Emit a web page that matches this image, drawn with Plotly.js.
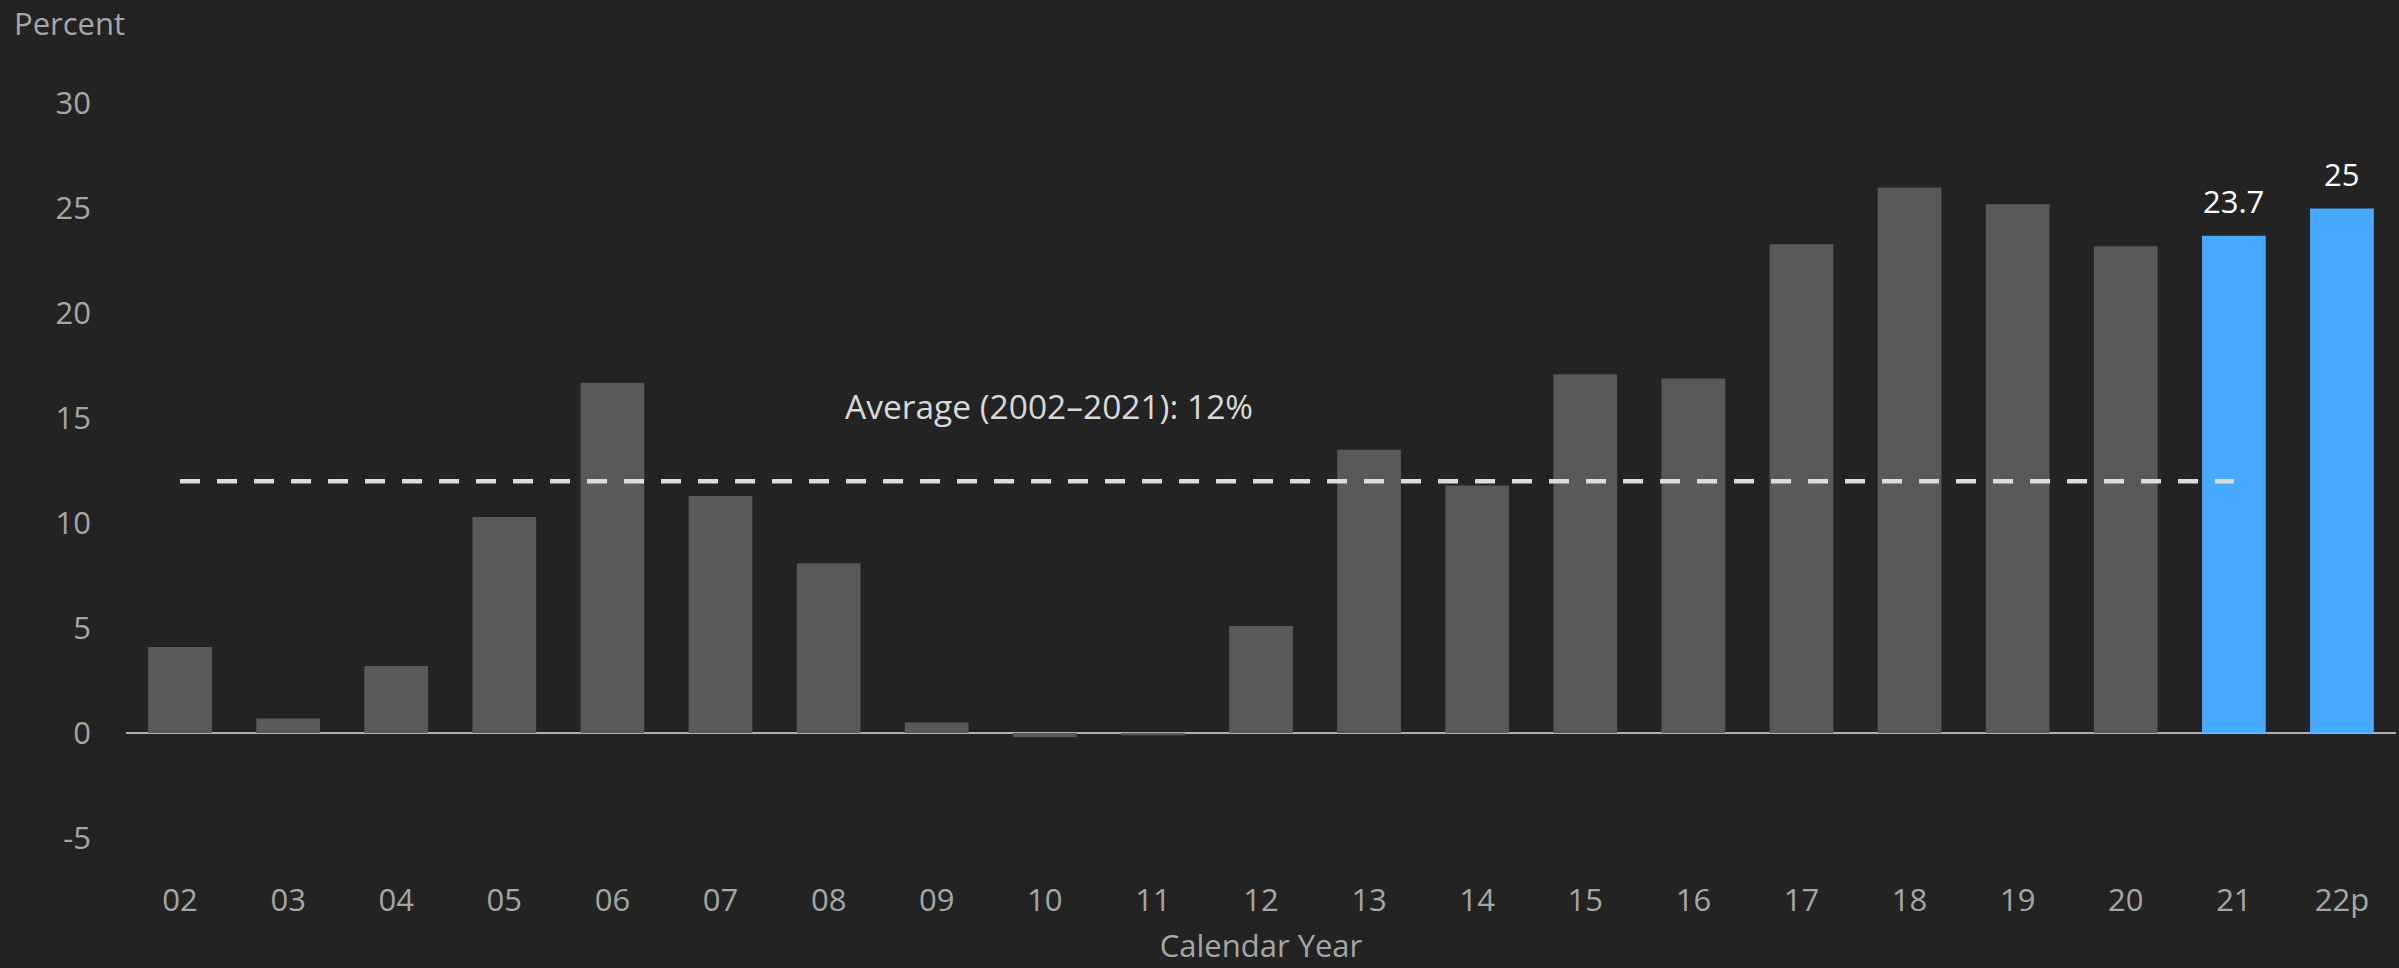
<!DOCTYPE html>
<html>
<head>
<meta charset="utf-8">
<script src="https://cdn.plot.ly/plotly-3.0.1.min.js"></script>
<style>
  html, body { margin: 0; padding: 0; background: #232323; }
  #chart { width: 2399px; height: 968px; }
</style>
</head>
<body>
<div id="chart"></div>
<script>
// Annual percentage by calendar year (22p = projected)
const years = ['02','03','04','05','06','07','08','09','10','11','12','13','14','15','16','17','18','19','20','21','22p'];
const percent = [4.1, 0.7, 3.2, 10.3, 16.7, 11.3, 8.1, 0.5, -0.2, -0.1, 5.1, 13.5, 11.8, 17.1, 16.9, 23.3, 26.0, 25.2, 23.2, 23.7, 25];
const highlightedYears = ['21', '22p'];
const averageValue = 12;
const averageFrom = '02';
const averageTo = '21';
const averageLabel = 'Average (2002\u20132021): 12%';
const yTicks = [-5, 0, 5, 10, 15, 20, 25, 30];

const FONT = 'Open Sans, Noto Sans, sans-serif';
const GREY_BAR = '#595959';
const BLUE_BAR = '#47aaff';
const TICK_COLOR = '#a6a6a6';

const isHighlighted = years.map(y => highlightedYears.includes(y));

const barTrace = {
  type: 'bar',
  x: years,
  y: percent,
  marker: { color: isHighlighted.map(h => h ? BLUE_BAR : GREY_BAR) },
  hoverinfo: 'x+y',
  showlegend: false
};

// value labels above the highlighted bars (positioned by category index,
// so numeric-looking names such as '21' are not read as indexes)
const valueLabels = [];
years.forEach((yr, i) => {
  if (!isHighlighted[i]) return;
  valueLabels.push({
    x: i, y: percent[i], xref: 'x', yref: 'y',
    text: String(percent[i]), showarrow: false,
    yanchor: 'bottom', yshift: 12,
    font: { family: FONT, size: 31, color: '#ffffff' }
  });
});

const layout = {
  width: 2399,
  height: 968,
  paper_bgcolor: '#232323',
  plot_bgcolor: '#232323',
  margin: { l: 126, r: 3, t: 60, b: 100 },
  bargap: 0.41,
  font: { family: FONT, size: 31, color: TICK_COLOR },
  xaxis: {
    type: 'category',
    categoryorder: 'array',
    categoryarray: years,
    range: [-0.5, years.length - 0.5],
    showgrid: false,
    showline: false,
    zeroline: false,
    ticks: '',
    ticklabelstandoff: 11,
    tickfont: { family: FONT, size: 31, color: TICK_COLOR },
    title: { text: 'Calendar Year', font: { family: FONT, size: 31, color: TICK_COLOR }, standoff: 16 }
  },
  yaxis: {
    range: [-6.43, 32.08],
    tickvals: yTicks,
    ticktext: yTicks.map(String),
    showgrid: false,
    showline: false,
    zeroline: true,
    zerolinecolor: '#b0b0b0',
    zerolinewidth: 2,
    ticks: '',
    ticklabelstandoff: 34,
    tickfont: { family: FONT, size: 31, color: TICK_COLOR }
  },
  shapes: [{
    type: 'line', xref: 'x', yref: 'y',
    x0: years.indexOf(averageFrom), x1: years.indexOf(averageTo),
    y0: averageValue, y1: averageValue,
    line: { color: '#dcdcdc', width: 4.5, dash: '20px,17px' }
  }],
  annotations: [
    {
      x: 8.04, y: 15.6, xref: 'x', yref: 'y',
      text: averageLabel, showarrow: false,
      font: { family: FONT, size: 33.5, color: '#d9d9d9' }
    },
    {
      x: 0, y: 1, xref: 'paper', yref: 'paper',
      text: 'Percent', showarrow: false,
      xanchor: 'left', yanchor: 'top', xshift: -114, yshift: 60,
      font: { family: FONT, size: 31, color: TICK_COLOR }
    }
  ].concat(valueLabels)
};

Plotly.newPlot('chart', [barTrace], layout, { staticPlot: true, displayModeBar: false });
</script>
</body>
</html>
